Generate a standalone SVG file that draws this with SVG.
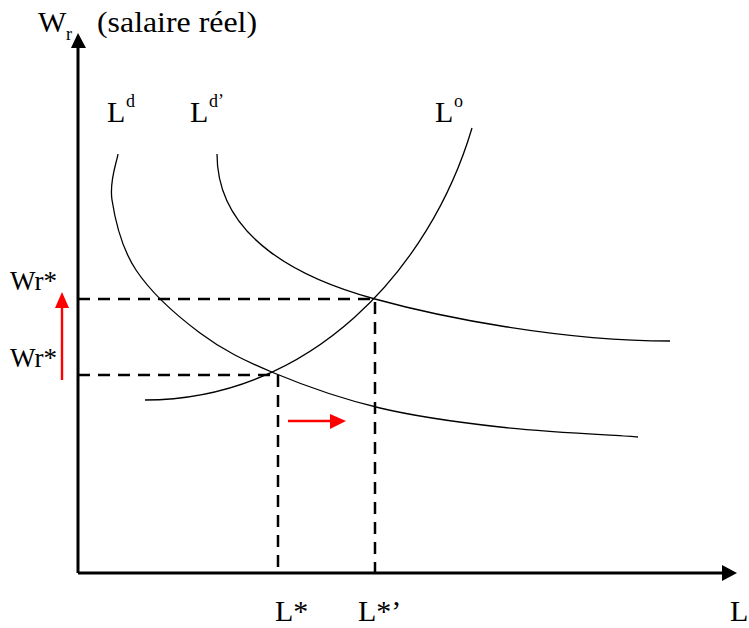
<svg xmlns="http://www.w3.org/2000/svg" width="749" height="628" viewBox="0 0 749 628">
<style>
text{font-family:"Liberation Serif","Times New Roman",serif;fill:#000;font-size:30px}
.sub{font-size:18px}
.wr{font-size:27px}
.curve{fill:none;stroke:#000;stroke-width:1.3}
.dash{fill:none;stroke:#000;stroke-width:2.5;stroke-dasharray:12 8}
.axis{fill:none;stroke:#000;stroke-width:3}
.red{fill:none;stroke:#ff0000;stroke-width:2.4}
</style>
<rect width="749" height="628" fill="#fff"/>
<g id="connectors">
<path class="dash" d="M78,299 H375 V573"/>
<path class="dash" d="M78,375 H278 V573"/>
<path class="axis" d="M78,573 V46"/>
<polygon points="78,33 71,48 86,48" fill="#000"/>
<path class="axis" d="M78,573 H724"/>
<polygon points="737,573 722,565 722,581" fill="#000"/>
<path class="red" d="M62,380 V306"/>
<polygon points="62,292 55,308 69,308" fill="#ff0000"/>
<path class="red" d="M288,421 H332"/>
<polygon points="346,421 330,414 330,429" fill="#ff0000"/>
</g>
<g id="curve-Ld">
<path class="curve" d="M118,154 C117,161.7 109,180.7 112,200 C115,219.3 121.3,247.8 136,270 C150.7,292.2 177,315.8 200,333 C223,350.2 244,360.5 274,373 C304,385.5 342.3,399 380,408 C417.7,417 457,422.2 500,427 C543,431.8 615,435.3 638,437"/>
</g>
<g id="curve-Ld2">
<path class="curve" d="M217,154 C217,240 305,280 375,299 C440,317 560,341 670,341"/>
</g>
<g id="curve-Lo">
<path class="curve" d="M145,400 C310,400 430,270 472,128"/>
</g>
<g id="label-axis-y">
<text x="38" y="32">W</text><text class="sub" x="66" y="40">r</text>
<text x="97" y="32" font-size="32" textLength="160" lengthAdjust="spacingAndGlyphs">(salaire réel)</text>
</g>
<g id="label-Ld"><text x="107" y="122">L</text><text class="sub" x="126" y="107">d</text></g>
<g id="label-Ld2"><text x="190" y="122">L</text><text class="sub" x="209" y="107">d’</text></g>
<g id="label-Lo"><text x="435" y="122">L</text><text class="sub" x="454" y="107">o</text></g>
<g id="label-wr1"><text class="wr" x="10" y="290">Wr*</text></g>
<g id="label-wr2"><text class="wr" x="10" y="367">Wr*</text></g>
<g id="label-L1"><text x="275" y="621">L*</text></g>
<g id="label-L2"><text x="358" y="621">L*’</text></g>
<g id="label-L"><text x="730" y="621">L</text></g>
</svg>
